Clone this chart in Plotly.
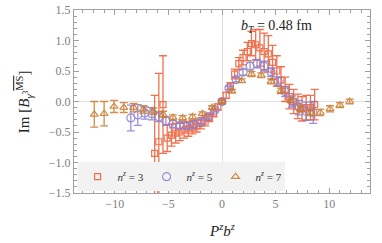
import plotly.graph_objects as go

# n^z = 3
x3 = [-6.28, -5.89, -5.50, -5.11, -4.71, -4.32, -3.93, -3.53, -3.14, -2.75, -2.36, -1.96, -1.57,
      -1.18, -0.79, -0.39, 0.00, 0.39, 0.79, 1.18, 1.57, 1.96, 2.36, 2.75, 3.14, 3.53, 3.93,
      4.32, 4.71, 5.11, 5.50, 5.89, 6.28, 6.68, 7.07, 7.46, 7.85, 8.25, 8.64]
y3 = [-0.85, -0.66, -0.05, -0.60, -0.55, -0.52, -0.50, -0.47, -0.45, -0.42, -0.40, -0.36, -0.32,
      -0.26, -0.19, -0.09, 0.00, 0.10, 0.25, 0.45, 0.62, 0.72, 0.82, 0.95, 0.93, 0.88, 0.82,
      0.78, 0.64, 0.50, 0.35, 0.20, 0.08, 0.00, -0.08, -0.12, -0.10, -0.10, -0.05]
e3 = [0.95, 1.12, 0.80, 0.22, 0.18, 0.16, 0.14, 0.13, 0.12, 0.11, 0.10, 0.09, 0.08,
      0.07, 0.06, 0.05, 0.04, 0.05, 0.06, 0.08, 0.10, 0.12, 0.15, 0.20, 0.25, 0.30, 0.30,
      0.30, 0.28, 0.25, 0.22, 0.20, 0.20, 0.20, 0.20, 0.20, 0.20, 0.20, 0.25]

# n^z = 5
x5 = [-8.50, -7.85, -7.19, -6.54, -5.89, -5.23, -4.58, -3.92, -3.27, -2.62, -1.96, -1.31, -0.65,
      0.00, 0.65, 1.31, 1.96, 2.62, 3.27, 3.92, 4.58, 5.23, 5.89, 6.54, 7.19, 7.85, 8.50]
y5 = [-0.27, -0.22, -0.19, -0.20, -0.25, -0.32, -0.37, -0.39, -0.40, -0.38, -0.33, -0.25, -0.14,
      0.00, 0.22, 0.36, 0.48, 0.58, 0.62, 0.58, 0.48, 0.33, 0.16, 0.00, -0.10, -0.16, -0.18]
e5 = [0.21, 0.17, 0.10, 0.10, 0.08, 0.07, 0.06, 0.05, 0.05, 0.05, 0.04, 0.04, 0.03,
      0.02, 0.03, 0.04, 0.05, 0.06, 0.07, 0.08, 0.07, 0.07, 0.08, 0.09, 0.12, 0.15, 0.18]

# n^z = 7
x7 = [-11.91, -10.99, -10.07, -9.16, -8.24, -7.33, -6.41, -5.50, -4.58, -3.66, -2.75, -1.83, -0.92,
      0.00, 0.92, 1.83, 2.75, 3.66, 4.58, 5.50, 6.41, 7.33, 8.24, 9.16, 10.07, 10.99, 11.91]
y7 = [-0.21, -0.20, -0.08, -0.10, -0.10, -0.13, -0.16, -0.21, -0.26, -0.27, -0.25, -0.20, -0.10,
      0.00, 0.17, 0.34, 0.45, 0.43, 0.33, 0.18, 0.02, -0.12, -0.18, -0.18, -0.12, -0.06, 0.00]
e7 = [0.21, 0.20, 0.10, 0.08, 0.07, 0.06, 0.05, 0.05, 0.04, 0.04, 0.04, 0.03, 0.03,
      0.02, 0.03, 0.03, 0.04, 0.04, 0.04, 0.04, 0.04, 0.05, 0.05, 0.05, 0.05, 0.04, 0.04]

series = [
    ("<i>n</i><sup><i>z</i></sup> = 3", x3, y3, e3, "#EE5A30", "square-open", 6),
    ("<i>n</i><sup><i>z</i></sup> = 5", x5, y5, e5, "#8A7DD0", "circle-open", 8),
    ("<i>n</i><sup><i>z</i></sup> = 7", x7, y7, e7, "#C97A2A", "triangle-up-open", 7),
]

fig = go.Figure()
for name, xs, ys, es, col, sym, sz in series:
    fig.add_trace(go.Scatter(
        x=xs, y=ys, mode="markers", name=name,
        marker=dict(symbol=sym, size=sz, color=col, line=dict(width=1.2, color=col)),
        error_y=dict(type="data", array=es, visible=True, color=col, thickness=1.3, width=4),
        opacity=0.85,
    ))

font_serif = "Liberation Serif"
axis_common = dict(
    showline=True, linecolor="#a0a0a0", linewidth=1, mirror="ticks",
    ticks="inside", ticklen=5, tickcolor="#a0a0a0", automargin=False,
    showgrid=False, zeroline=True, zerolinecolor="#e0e0e0", zerolinewidth=1,
    tickfont=dict(family=font_serif, size=12, color="#808080"),
)
fig.update_xaxes(range=[-13.8, 13.8], tick0=0, dtick=5,
                 minor=dict(ticks="inside", ticklen=3, dtick=1, tickcolor="#a0a0a0"),
                 tickformat="d", **axis_common)
fig.update_yaxes(range=[-1.5, 1.5], tick0=0, dtick=0.5, tickformat=".1f",
                 minor=dict(ticks="inside", ticklen=3, dtick=0.1, tickcolor="#a0a0a0"),
                 **axis_common)

# axis titles as annotations for precise placement
fig.add_annotation(x=0.5, y=-0.2, xref="paper", yref="paper", xanchor="center", yanchor="middle",
                   text="<i>P</i><sup><i>z</i></sup><i>b</i><sup><i>z</i></sup>", showarrow=False,
                   font=dict(family=font_serif, size=15, color="#222"))
fig.add_annotation(x=-0.17, y=0.5, xref="paper", yref="paper", xanchor="center", yanchor="middle",
                   textangle=-90,
                   text="Im [<i>B</i><sub><i>γ</i><sup>3</sup></sub><sup><span style=\"text-decoration:overline\">MS</span></sup>]",
                   showarrow=False, font=dict(family=font_serif, size=15, color="#222"))

fig.add_annotation(x=1.6, y=1.23, xref="x", yref="y", xanchor="left", yanchor="middle",
                   text="<i>b</i><sub><i>T</i></sub> = 0.48 fm", showarrow=False,
                   font=dict(family=font_serif, size=14, color="#222"))

fig.update_layout(
    width=382, height=243,
    margin=dict(l=74, r=12, t=10, b=50),
    paper_bgcolor="white", plot_bgcolor="white",
    showlegend=True,
    legend=dict(orientation="h", x=0.012, y=0.01, xanchor="left", yanchor="bottom",
                bgcolor="#f2f2f2", borderwidth=0, entrywidth=24, entrywidthmode="pixels",
                font=dict(family=font_serif, size=11, color="#333"), itemwidth=30),
)

fig.write_html("out.html", config={"displayModeBar": False},
               post_script="document.body.style.margin='0';document.body.style.overflow='hidden';")
